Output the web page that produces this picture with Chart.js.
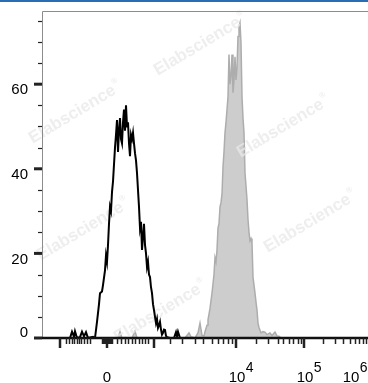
<!DOCTYPE html>
<html>
<head>
<meta charset="utf-8">
<script src="https://cdn.jsdelivr.net/npm/chart.js@4.4.1/dist/chart.umd.min.js"></script>
<style>
  html, body { margin: 0; padding: 0; background: #fff; }
  #chart { display: block; }
</style>
</head>
<body>
<canvas id="chart" width="368" height="383"></canvas>
<script>
// display channels on the x axis (biexponential display, 0..978)
var control_x = [0, 54, 84, 90, 96, 99, 105, 114, 120, 126, 132, 138, 153, 159, 165, 171, 174, 180, 183, 189, 192, 195, 198, 201, 204, 207, 210, 213, 216, 219, 222, 225, 228, 231, 234, 237, 240, 243, 246, 249, 252, 255, 258, 261, 264, 267, 270, 273, 276, 279, 282, 285, 288, 291, 294, 297, 300, 303, 306, 309, 312, 315, 318, 321, 324, 327, 330, 333, 336, 339, 342, 345, 348, 351, 354, 357, 360, 363, 366, 369, 372, 375, 384, 396, 402, 405, 408, 414, 978];
var control_y = [0, 0, 0, 1.5, 0.3, 1.6, 0, 0.2, 1.5, 0.4, 1.4, 0, 0.3, 0, 3.8, 8, 10.6, 11, 12.5, 16, 19.5, 18, 22, 27, 31, 30, 34.5, 37, 41, 45, 48, 51.5, 44, 49, 52, 47, 46, 51, 54, 49, 55, 50, 51, 46, 43, 48, 47, 48.5, 46, 43.7, 42, 39, 35, 31, 26, 27.5, 20.8, 24, 27, 22, 20, 16.8, 18, 15, 14.4, 12, 10.6, 8, 6.6, 5, 3.5, 4.5, 2.4, 3, 3.8, 2, 0.8, 1.2, 2, 1.9, 0.5, 0.2, 0, 0, 1.4, 0.4, 1.5, 0, 0];

var sample_x = [0, 213, 228, 234, 240, 270, 279, 285, 429, 441, 447, 459, 468, 474, 480, 486, 489, 495, 498, 504, 510, 516, 519, 522, 525, 528, 531, 534, 537, 540, 543, 546, 549, 552, 555, 558, 561, 564, 567, 570, 573, 576, 579, 582, 585, 588, 591, 594, 597, 600, 603, 606, 609, 612, 615, 618, 621, 624, 627, 630, 633, 636, 639, 642, 645, 648, 651, 657, 663, 669, 675, 684, 690, 699, 705, 711, 717, 978];
var sample_y = [0, 0, 0, 1.5, 0, 0, 1.6, 0, 0, 1.2, 0.3, 0, 1.2, 3.5, 0.6, 0.5, 1.5, 3, 4.3, 7, 10.6, 15, 19, 18, 20.8, 26, 27, 31, 32, 34, 40.5, 44, 48.5, 51, 54, 57, 67, 60, 62, 67, 58, 61, 66.5, 61, 64, 71.3, 73.6, 74.5, 69.8, 57, 52, 48.5, 39, 36, 32.7, 28, 25, 23, 23.5, 22.5, 14.4, 12.5, 10.6, 8.5, 6.6, 3.5, 2.5, 1.2, 1.5, 1.4, 0.8, 1.2, 0.6, 1.4, 0.5, 0.4, 0, 0];

var x_major_ticks = [54, 195, 336, 582, 786];
var x_minor_ticks = [72, 81, 90, 96, 105, 111, 117, 126, 135, 144, 180, 183, 186, 189, 192, 198, 201, 204, 207, 210, 225, 237, 249, 258, 270, 279, 291, 300, 309, 318, 384, 420, 459, 483, 510, 528, 543, 558, 570, 642, 678, 708, 723, 741, 753, 768, 777, 843, 879, 903, 924, 939, 951, 963, 972];
var x_label_pos = [195, 582, 786, 924];
var x_label_base = ['0', '10', '10', '10'];
var x_label_exp = ['', '4', '5', '6'];

var y_major_ticks = [0, 20, 40, 60];
var y_minor_ticks = [5, 10, 15, 25, 30, 35, 45, 50, 55, 65, 70, 75];

var watermarks = [[75, 113], [200, 45], [283, 127], [83, 230], [310, 222], [160, 312]];

function toPoints(xs, ys) {
    var pts = [];
    for (var i = 0; i < xs.length; i++) pts.push({x: xs[i], y: ys[i]});
    return pts;
}

var flowAxes = {
    id: 'flowAxes',
    beforeDraw: function (chart) {
        var ctx = chart.ctx;
        ctx.save();
        ctx.fillStyle = '#fff';
        ctx.fillRect(0, 0, chart.width, chart.height);
        ctx.fillStyle = '#2b6db4';
        ctx.fillRect(0, 0, chart.width, 2);
        ctx.restore();
    },
    afterDatasetDraw: function (chart, args) {
        if (args.index !== 1) return;
        var ctx = chart.ctx;
        ctx.save();
        ctx.fillStyle = 'rgba(232,232,232,0.75)';
        ctx.textBaseline = 'middle';
        watermarks.forEach(function (w) {
            ctx.save();
            ctx.translate(w[0], w[1]);
            ctx.rotate(-31 * Math.PI / 180);
            ctx.font = 'bold 17px "Liberation Sans", Arial, sans-serif';
            ctx.textAlign = 'left';
            var tw = ctx.measureText('Elabscience').width;
            ctx.fillText('Elabscience', -tw / 2 - 3, 0);
            ctx.font = 'bold 8px "Liberation Sans", Arial, sans-serif';
            ctx.fillText('\u00AE', tw / 2 - 2, -7);
            ctx.restore();
        });
        ctx.restore();
    },
    afterDraw: function (chart) {
        var ctx = chart.ctx;
        var a = chart.chartArea;
        var xs = chart.scales.x, ys = chart.scales.y;
        ctx.save();
        // frame
        ctx.strokeStyle = '#8c8c8c';
        ctx.lineWidth = 1;
        ctx.beginPath();
        ctx.moveTo(a.left + 0.5, a.bottom);
        ctx.lineTo(a.left + 0.5, a.top + 0.5);
        ctx.lineTo(a.right, a.top + 0.5);
        ctx.stroke();
        // baseline
        ctx.strokeStyle = '#111';
        ctx.lineWidth = 2.5;
        ctx.beginPath();
        ctx.moveTo(a.left, a.bottom);
        ctx.lineTo(a.right, a.bottom);
        ctx.stroke();

        // y ticks
        ctx.strokeStyle = '#222';
        y_major_ticks.forEach(function (v) {
            var py = ys.getPixelForValue(v);
            ctx.lineWidth = 3;
            ctx.beginPath();
            ctx.moveTo(a.left - 8, py);
            ctx.lineTo(a.left, py);
            ctx.stroke();
        });
        y_minor_ticks.forEach(function (v) {
            var py = Math.round(ys.getPixelForValue(v)) + 0.5;
            ctx.lineWidth = 1.2;
            ctx.beginPath();
            ctx.moveTo(a.left - 4, py);
            ctx.lineTo(a.left, py);
            ctx.stroke();
        });
        // x ticks
        x_major_ticks.forEach(function (v) {
            var px = xs.getPixelForValue(v);
            ctx.lineWidth = 2.5;
            ctx.beginPath();
            ctx.moveTo(px, a.bottom);
            ctx.lineTo(px, a.bottom + 10);
            ctx.stroke();
        });
        x_minor_ticks.forEach(function (v) {
            var px = Math.round(xs.getPixelForValue(v)) + 0.5;
            ctx.lineWidth = 1.5;
            ctx.beginPath();
            ctx.moveTo(px, a.bottom);
            ctx.lineTo(px, a.bottom + 6);
            ctx.stroke();
        });

        // y labels
        ctx.fillStyle = '#000';
        ctx.font = '15px "Liberation Sans", Arial, sans-serif';
        ctx.textAlign = 'right';
        ctx.textBaseline = 'middle';
        y_major_ticks.forEach(function (v) {
            var py = Math.min(ys.getPixelForValue(v) + 6, a.bottom - 5);
            ctx.fillText(String(v), 28, py);
        });

        // x labels
        ctx.textBaseline = 'alphabetic';
        for (var i = 0; i < x_label_pos.length; i++) {
            var px = xs.getPixelForValue(x_label_pos[i]) + (x_label_exp[i] ? 1 : 0);
            ctx.font = '15px "Liberation Sans", Arial, sans-serif';
            ctx.textAlign = 'center';
            ctx.fillText(x_label_base[i], px, 382);
            if (x_label_exp[i]) {
                var w = ctx.measureText(x_label_base[i]).width;
                ctx.font = '14px "Liberation Sans", Arial, sans-serif';
                ctx.textAlign = 'left';
                ctx.fillText(x_label_exp[i], px + w / 2 + 0.5, 372);
            }
        }
        ctx.restore();
    }
};

var myChart = new Chart(document.getElementById('chart'), {
    type: 'line',
    data: {
        datasets: [{
            label: 'Isotype control',
            data: toPoints(control_x, control_y),
            borderColor: '#000',
            borderWidth: 2,
            fill: false,
            pointRadius: 0,
            tension: 0
        }, {
            label: 'Stained',
            data: toPoints(sample_x, sample_y),
            borderColor: '#adadad',
            borderWidth: 1.5,
            backgroundColor: '#cdcdcd',
            fill: 'origin',
            pointRadius: 0,
            tension: 0
        }]
    },
    options: {
        responsive: false,
        devicePixelRatio: 1,
        animation: false,
        layout: { padding: { top: 11, right: 0, left: 0, bottom: 0 } },
        plugins: {
            legend: { display: false },
            tooltip: { enabled: false },
            title: { display: false }
        },
        scales: {
            x: {
                type: 'linear',
                min: 0,
                max: 978,
                grid: { display: false },
                border: { display: false },
                ticks: { display: false },
                afterFit: function (s) { s.height = 45; }
            },
            y: {
                min: 0,
                max: 77.3,
                grid: { display: false },
                border: { display: false },
                ticks: { display: false },
                afterFit: function (s) { s.width = 42; }
            }
        }
    },
    plugins: [flowAxes]
});
</script>
</body>
</html>
